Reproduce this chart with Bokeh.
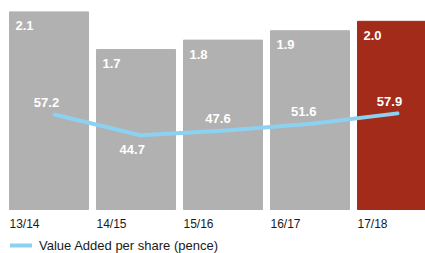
from bokeh.plotting import figure
from bokeh.models import Range1d, Legend, LegendItem, ColumnDataSource
from bokeh.core.properties import value
from bokeh.embed import file_html
from bokeh.resources import INLINE

# ---- data ----
years = ["13/14", "14/15", "15/16", "16/17", "17/18"]
bar_values = [2.1, 1.7, 1.8, 1.9, 2.0]
line_values = [57.2, 44.7, 47.6, 51.6, 57.9]
line_label = "Value Added per share (pence)"

GREY = "#b1b1b1"
RED = "#a22b1a"
BLUE = "#8dd1f0"
FONT = "Liberation Sans"

n = len(years)
idx = list(range(n))
bar_w = 79 / 87
bar_x = [i + bar_w / 2 for i in idx]
bar_colors = [GREY] * (n - 1) + [RED]

p = figure(width=425, height=253, output_backend="svg", toolbar_location=None,
           x_range=Range1d(-9 / 87, 416 / 87), y_range=Range1d(-44 / 94.1, 209 / 94.1),
           min_border=0, min_border_left=0, min_border_right=0, min_border_top=0,
           min_border_bottom=0)
p.extra_x_ranges = {"line": Range1d(-54 / 85.75, 371 / 85.75)}
p.extra_y_ranges = {"line": Range1d(-44 / 1.66, 209 / 1.66)}
p.axis.visible = False
p.grid.visible = False
p.outline_line_color = None
p.background_fill_color = "white"
p.border_fill_color = "white"

bars = ColumnDataSource(dict(x=bar_x, left=idx, top=bar_values, color=bar_colors,
                             label=[f"{v:.1f}" for v in bar_values], year=years))
p.vbar(x="x", top="top", width=bar_w, bottom=0, color="color", source=bars)

# value labels inside bars
p.text(x="left", y="top", text="label", source=bars, x_offset=6, y_offset=14,
       text_color="white", text_font=value(FONT), text_font_style="bold",
       text_font_size="13px", text_align="left", text_baseline="middle")

# category labels under bars
p.text(x="left", y=0, text="year", source=bars, y_offset=14,
       text_color="#1a1a1a", text_font=value(FONT), text_font_size="12px",
       text_align="left", text_baseline="middle")

# line series
vmin = min(line_values)
line_src = ColumnDataSource(dict(x=idx, y=line_values,
                                 label=[f"{v:.1f}" for v in line_values],
                                 yoff=[14 if v == vmin else -12 for v in line_values]))
ln = p.line(x="x", y="y", source=line_src, x_range_name="line", y_range_name="line",
            line_color=BLUE, line_width=4, line_cap="round", line_join="round")
p.text(x="x", y="y", text="label", source=line_src, x_range_name="line", y_range_name="line",
       x_offset=-8, y_offset="yoff", text_color="white", text_font=value(FONT),
       text_font_style="bold", text_font_size="13px", text_align="center",
       text_baseline="middle")

legend = Legend(items=[LegendItem(label=line_label, renderers=[ln])],
                location=(10, 0), padding=0, margin=0, border_line_color=None,
                background_fill_alpha=0, glyph_width=22, glyph_height=16,
                label_height=16, label_standoff=7, label_text_font=FONT,
                label_text_font_size="13px", label_text_color="#1a1a1a")
p.add_layout(legend)

open("out.html", "w").write(file_html(p, INLINE))
